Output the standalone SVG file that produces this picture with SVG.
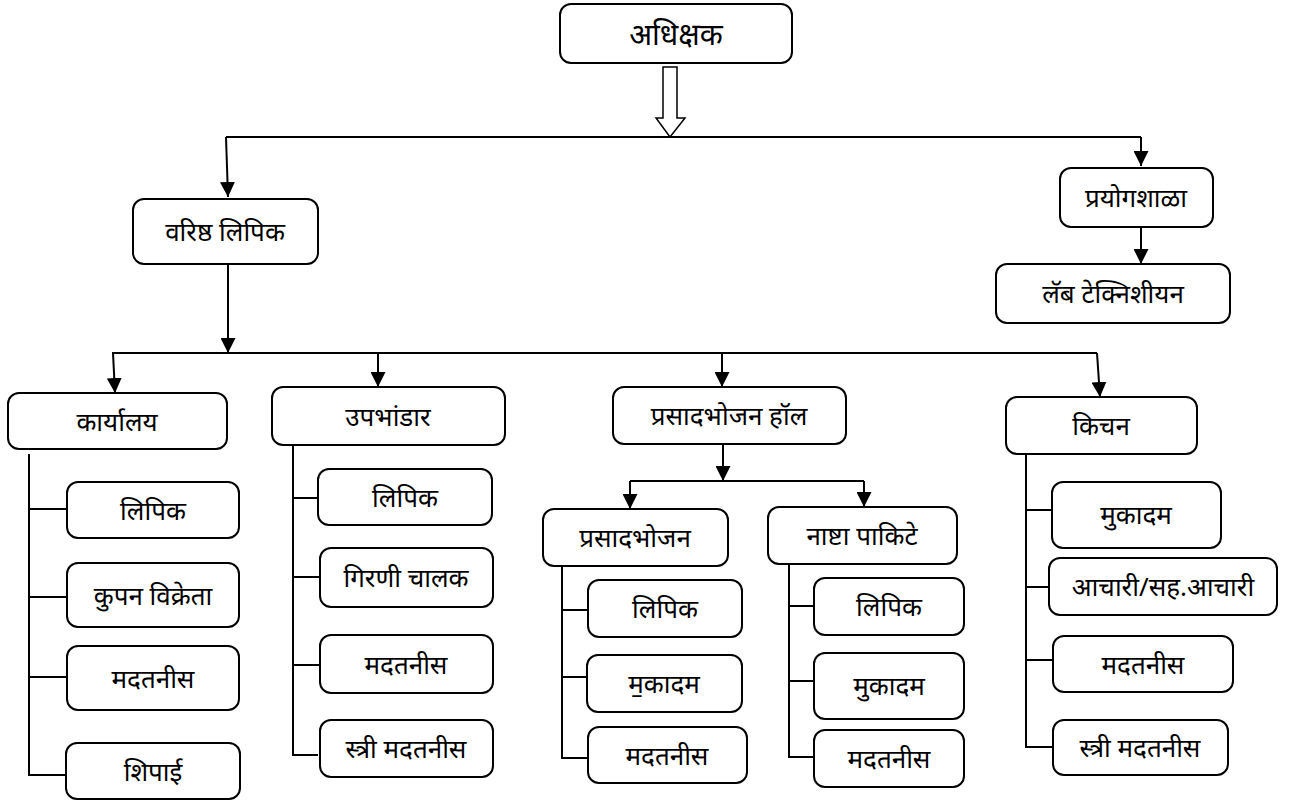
<svg xmlns="http://www.w3.org/2000/svg" width="1294" height="801" viewBox="0 0 1294 801">
<defs>
<marker id="ah" markerUnits="userSpaceOnUse" markerWidth="15" markerHeight="15" viewBox="0 0 15 15" refX="15" refY="7.5" orient="auto">
<path d="M0,0 L15,7.5 L0,15 z" fill="#000"/>
</marker>
<style>
.b{fill:#fff;stroke:#000;stroke-width:2}
.t{font-family:"Noto Sans","Noto Sans Devanagari","Lohit Devanagari",sans-serif;font-size:26px;font-weight:400;text-anchor:middle;dominant-baseline:central;fill:#000}
.l{stroke:#000;stroke-width:2;fill:none}
.a{stroke:#000;stroke-width:2;fill:none;marker-end:url(#ah)}
</style>
</defs>
<rect width="1294" height="801" fill="#fff"/>
<g id="connectors">
<path d="M670,67 L677,67 L677,118 L685,118 L670,137 L656,118 L663,118 L663,67 Z" fill="#fff" stroke="#000" stroke-width="1.5"/>
<path class="l" d="M226,137 H1141"/>
<path class="a" d="M226,137 L228,197"/>
<path class="a" d="M1141,137 V166"/>
<path class="a" d="M1141,227 V264"/>
<path class="a" d="M228,264 V353"/>
<path class="l" d="M112,353 H1097"/>
<path class="a" d="M113,353 L115,393"/>
<path class="a" d="M378,353 V387"/>
<path class="a" d="M722,353 V387"/>
<path class="a" d="M1097,353 L1100,397"/>
<path class="a" d="M723,444 V481"/>
<path class="l" d="M630,481 H864"/>
<path class="a" d="M630,481 V509"/>
<path class="a" d="M864,481 V507"/>
<path class="l" d="M29,454 V775 H65"/>
<path class="l" d="M29,509 H67 M29,597 H67 M29,677 H67"/>
<path class="l" d="M293,445 V755 H318"/>
<path class="l" d="M293,498 H318 M293,577 H320 M293,665 H320"/>
<path class="l" d="M562,566 V758 H588"/>
<path class="l" d="M562,610 H588 M562,677 H587"/>
<path class="l" d="M789,564 V757 H814"/>
<path class="l" d="M789,606 H814 M789,681 H814"/>
<path class="l" d="M1026,454 V747 H1053"/>
<path class="l" d="M1026,510 H1052 M1026,587 H1049 M1026,660 H1053"/>
</g>
<g id="n-adhikshak"><rect class="b" x="560" y="4" width="232" height="59" rx="11"/><text class="t" x="676" y="33" style="font-size:30px">अधिक्षक</text></g>
<g id="n-varishtha"><rect class="b" x="133" y="199" width="185" height="65" rx="11"/><text class="t" x="225" y="231">वरिष्ठ लिपिक</text></g>
<g id="n-prayog"><rect class="b" x="1060" y="168" width="153" height="59" rx="11"/><text class="t" x="1136" y="197">प्रयोगशाळा</text></g>
<g id="n-lab"><rect class="b" x="996" y="264" width="234" height="59" rx="11"/><text class="t" x="1113" y="293">लॅब टेक्निशीयन</text></g>
<g id="n-karyalay"><rect class="b" x="8" y="393" width="219" height="56" rx="11"/><text class="t" x="117" y="421">कार्यालय</text></g>
<g id="n-k1"><rect class="b" x="67" y="482" width="172" height="56" rx="11"/><text class="t" x="153" y="510">लिपिक</text></g>
<g id="n-k2"><rect class="b" x="67" y="563" width="172" height="64" rx="11"/><text class="t" x="153" y="595">कुपन विक्रेता</text></g>
<g id="n-k3"><rect class="b" x="67" y="646" width="172" height="64" rx="11"/><text class="t" x="153" y="678">मदतनीस</text></g>
<g id="n-k4"><rect class="b" x="66" y="743" width="174" height="56" rx="11"/><text class="t" x="153" y="771">शिपाई</text></g>
<g id="n-upbhandar"><rect class="b" x="272" y="387" width="233" height="58" rx="11"/><text class="t" x="388" y="416">उपभांडार</text></g>
<g id="n-u1"><rect class="b" x="318" y="469" width="174" height="56" rx="11"/><text class="t" x="405" y="497">लिपिक</text></g>
<g id="n-u2"><rect class="b" x="320" y="548" width="173" height="59" rx="11"/><text class="t" x="406" y="577">गिरणी चालक</text></g>
<g id="n-u3"><rect class="b" x="320" y="635" width="173" height="58" rx="11"/><text class="t" x="406" y="664">मदतनीस</text></g>
<g id="n-u4"><rect class="b" x="320" y="720" width="173" height="57" rx="11"/><text class="t" x="406" y="748">स्त्री मदतनीस</text></g>
<g id="n-hall"><rect class="b" x="613" y="387" width="233" height="57" rx="11"/><text class="t" x="729" y="415">प्रसादभोजन हॉल</text></g>
<g id="n-prasad"><rect class="b" x="543" y="509" width="185" height="57" rx="11"/><text class="t" x="635" y="537">प्रसादभोजन</text></g>
<g id="n-p1"><rect class="b" x="588" y="580" width="154" height="57" rx="11"/><text class="t" x="665" y="608">लिपिक</text></g>
<g id="n-p2"><rect class="b" x="587" y="655" width="155" height="57" rx="11"/><text class="t" x="664" y="683">म॒कादम</text></g>
<g id="n-p3"><rect class="b" x="588" y="727" width="159" height="56" rx="11"/><text class="t" x="667" y="755">मदतनीस</text></g>
<g id="n-nashta"><rect class="b" x="768" y="507" width="189" height="57" rx="11"/><text class="t" x="862" y="535">नाष्टा पाकिटे</text></g>
<g id="n-n1"><rect class="b" x="814" y="578" width="150" height="57" rx="11"/><text class="t" x="889" y="606">लिपिक</text></g>
<g id="n-n2"><rect class="b" x="814" y="653" width="150" height="66" rx="11"/><text class="t" x="889" y="685">मुकादम</text></g>
<g id="n-n3"><rect class="b" x="814" y="730" width="150" height="57" rx="11"/><text class="t" x="889" y="758">मदतनीस</text></g>
<g id="n-kitchen"><rect class="b" x="1006" y="397" width="191" height="57" rx="11"/><text class="t" x="1101" y="425">किचन</text></g>
<g id="n-c1"><rect class="b" x="1052" y="482" width="169" height="66" rx="11"/><text class="t" x="1136" y="514">मुकादम</text></g>
<g id="n-c2"><rect class="b" x="1049" y="558" width="228" height="57" rx="11"/><text class="t" x="1163" y="586">आचारी/सह.आचारी</text></g>
<g id="n-c3"><rect class="b" x="1053" y="636" width="180" height="56" rx="11"/><text class="t" x="1143" y="664">मदतनीस</text></g>
<g id="n-c4"><rect class="b" x="1053" y="720" width="175" height="55" rx="11"/><text class="t" x="1140" y="747">स्त्री मदतनीस</text></g>
</svg>
